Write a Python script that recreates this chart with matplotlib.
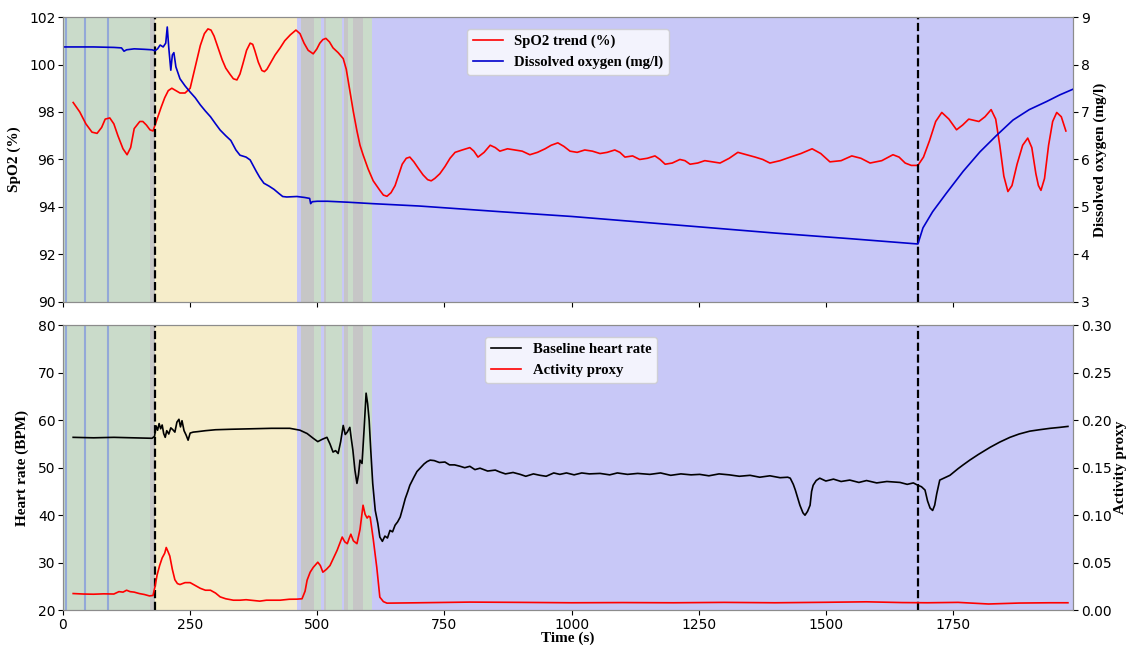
import numpy as np
import matplotlib
matplotlib.use('Agg')
import matplotlib.pyplot as plt

# SpO2 trend (%)
t_spo2 = [20, 33, 45, 57, 67, 76, 83, 92, 100, 108, 118, 126, 133, 140, 151, 157, 164, 171, 177, 185,
          193, 200, 207, 214, 222, 230, 240, 250, 260, 270, 278, 285, 291, 297, 305, 313, 320, 328, 335, 342,
          348, 354, 361, 368, 373, 377, 384, 391, 396, 401, 409, 417, 427, 436, 447, 458, 466, 474, 482, 492,
          499, 505, 511, 517, 524, 531, 541, 551, 557, 564, 571, 578, 584, 590, 600, 610, 623, 630, 637, 645,
          653, 660, 667, 675, 682, 690, 698, 708, 717, 724, 731, 741, 751, 761, 771, 785, 800, 808, 816, 828,
          840, 850, 859, 874, 889, 903, 918, 933, 948, 960, 973, 985, 997, 1011, 1026, 1041, 1056, 1070, 1085, 1095,
          1105, 1120, 1134, 1149, 1164, 1174, 1184, 1198, 1213, 1223, 1233, 1248, 1262, 1277, 1292, 1310, 1327, 1344, 1361, 1376,
          1390, 1410, 1430, 1451, 1473, 1490, 1508, 1530, 1551, 1569, 1587, 1610, 1632, 1644, 1656, 1668, 1681, 1692, 1704, 1716,
          1728, 1742, 1757, 1769, 1781, 1791, 1801, 1813, 1825, 1834, 1842, 1850, 1858, 1866, 1876, 1887, 1897, 1905, 1913, 1918,
          1923, 1930, 1938, 1946, 1954, 1963, 1972]
spo2 = [98.4, 98.0, 97.5, 97.15, 97.1, 97.35, 97.7, 97.75, 97.5, 97.0, 96.45, 96.2, 96.5, 97.3, 97.6, 97.6, 97.45, 97.25, 97.2, 97.7,
        98.2, 98.6, 98.9, 99.0, 98.9, 98.8, 98.8, 99.0, 99.9, 100.8, 101.3, 101.5, 101.45, 101.2, 100.7, 100.2, 99.85, 99.6, 99.4, 99.35,
        99.6, 100.05, 100.6, 100.9, 100.85, 100.6, 100.1, 99.75, 99.7, 99.8, 100.1, 100.4, 100.7, 101.0, 101.25, 101.45, 101.3, 100.9, 100.6, 100.45,
        100.65, 100.9, 101.05, 101.1, 100.95, 100.7, 100.5, 100.25, 99.8, 98.9, 98.0, 97.2, 96.6, 96.2, 95.6, 95.1, 94.7, 94.5, 94.45, 94.6,
        94.9, 95.35, 95.8, 96.05, 96.1, 95.9, 95.65, 95.35, 95.15, 95.1, 95.2, 95.4, 95.7, 96.05, 96.3, 96.4, 96.5, 96.35, 96.1, 96.3,
        96.6, 96.5, 96.35, 96.45, 96.4, 96.35, 96.2, 96.3, 96.45, 96.6, 96.7, 96.55, 96.35, 96.3, 96.4, 96.35, 96.25, 96.3, 96.4, 96.3,
        96.1, 96.15, 96.0, 96.05, 96.15, 96.0, 95.8, 95.85, 96.0, 95.95, 95.8, 95.85, 95.95, 95.9, 95.85, 96.05, 96.3, 96.2, 96.1, 96.0,
        95.85, 95.95, 96.1, 96.25, 96.45, 96.25, 95.9, 95.95, 96.15, 96.05, 95.85, 95.95, 96.2, 96.1, 95.85, 95.75, 95.75, 96.1, 96.8, 97.6,
        97.98, 97.7, 97.25, 97.45, 97.7, 97.65, 97.6, 97.8, 98.1, 97.7, 96.6, 95.3, 94.65, 94.9, 95.8, 96.6, 96.9, 96.5, 95.4, 94.9,
        94.7, 95.2, 96.6, 97.6, 97.98, 97.8, 97.2]

# Dissolved oxygen (mg/l)
t_do = [0, 60, 100, 115, 120, 125, 140, 160, 175, 181, 186, 191, 197, 202, 205, 208, 212, 215, 218, 222,
        230, 240, 250, 260, 270, 280, 290, 300, 309, 320, 330, 340, 348, 360, 368, 380, 387, 395, 405, 415,
        425, 432, 440, 460, 475, 485, 487, 490, 500, 520, 560, 608, 700, 860, 1000, 1252, 1400, 1550, 1681, 1691,
        1710, 1737, 1770, 1803, 1835, 1868, 1900, 1934, 1960, 1986]
dox = [8.37, 8.37, 8.36, 8.35, 8.28, 8.31, 8.33, 8.32, 8.31, 8.29, 8.33, 8.41, 8.37, 8.45, 8.79, 8.35, 7.88, 8.2, 8.25, 7.95,
       7.7, 7.55, 7.42, 7.3, 7.15, 7.02, 6.9, 6.75, 6.62, 6.5, 6.4, 6.2, 6.09, 6.05, 5.99, 5.75, 5.62, 5.5, 5.44, 5.37,
       5.28, 5.22, 5.21, 5.22, 5.2, 5.18, 5.07, 5.11, 5.12, 5.12, 5.1, 5.07, 5.02, 4.9, 4.8, 4.58, 4.45, 4.33, 4.22, 4.56,
       4.9, 5.29, 5.75, 6.16, 6.5, 6.83, 7.05, 7.22, 7.36, 7.48]

# Baseline heart rate (BPM)
t_hr = [20, 60, 100, 140, 175, 180, 183, 186, 189, 192, 195, 198, 201, 204, 208, 212, 216, 220, 224, 228,
        231, 234, 238, 242, 246, 250, 256, 265, 280, 300, 330, 370, 410, 446, 466, 480, 492, 501, 510, 519,
        525, 531, 536, 541, 546, 551, 555, 559, 564, 567, 570, 574, 578, 581, 584, 588, 592, 596, 599, 602,
        605, 609, 614, 619, 623, 628, 633, 638, 643, 648, 653, 658, 663, 668, 673, 678, 682, 690, 696, 702,
        710, 716, 722, 730, 740, 751, 760, 770, 781, 790, 800, 810, 820, 835, 850, 859, 870, 885, 899, 910,
        925, 938, 950, 965, 977, 990, 1005, 1020, 1035, 1056, 1075, 1090, 1110, 1130, 1154, 1175, 1195, 1215, 1235, 1252,
        1270, 1290, 1310, 1330, 1351, 1370, 1390, 1410, 1425, 1430, 1436, 1440, 1445, 1449, 1455, 1459, 1464, 1469, 1472, 1475,
        1481, 1488, 1500, 1515, 1530, 1547, 1565, 1580, 1600, 1620, 1646, 1660, 1672, 1681, 1688, 1695, 1700, 1705, 1710, 1714,
        1718, 1724, 1734, 1744, 1760, 1770, 1783, 1800, 1823, 1842, 1862, 1880, 1901, 1920, 1941, 1960, 1976]
hr = [56.4, 56.3, 56.4, 56.3, 56.2, 56.6, 58.8, 57.9, 59.3, 58.2, 59.0, 57.2, 56.4, 57.8, 57.1, 58.4, 58.0, 57.5, 59.6, 60.2,
      58.6, 59.9, 57.8, 56.9, 55.8, 57.3, 57.5, 57.6, 57.8, 58.0, 58.1, 58.2, 58.3, 58.3, 57.9, 57.2, 56.2, 55.5, 56.0, 56.4,
      55.0, 53.3, 53.6, 53.0, 55.5, 58.9, 57.0, 57.5, 58.5, 56.0, 53.7, 49.5, 46.7, 48.5, 51.6, 50.9, 58.0, 65.7, 63.5, 60.0,
      54.0, 46.7, 41.0, 38.3, 35.4, 34.5, 35.6, 35.2, 36.8, 36.5, 37.9, 38.6, 39.6, 41.5, 43.5, 45.0, 46.3, 48.0, 49.2, 49.9,
      50.8, 51.3, 51.6, 51.5, 51.1, 51.2, 50.6, 50.6, 50.3, 50.0, 50.3, 49.6, 49.9, 49.3, 49.5, 49.1, 48.7, 49.0, 48.6, 48.2,
      48.7, 48.4, 48.2, 48.9, 48.6, 48.9, 48.5, 48.9, 48.7, 48.8, 48.5, 48.9, 48.6, 48.8, 48.6, 48.9, 48.4, 48.7, 48.5, 48.6,
      48.3, 48.7, 48.5, 48.2, 48.4, 48.0, 48.3, 47.9, 48.0, 47.8, 46.5, 45.3, 43.5, 42.1, 40.5, 40.0, 40.8, 42.1, 45.0, 46.3,
      47.3, 47.8, 47.2, 47.6, 47.1, 47.4, 46.9, 47.3, 46.8, 47.1, 46.9, 46.5, 46.8, 46.3, 46.0, 45.3, 43.0, 41.5, 41.0, 42.1,
      44.5, 47.4, 47.9, 48.4, 49.8, 50.6, 51.6, 52.8, 54.3, 55.4, 56.4, 57.1, 57.7, 58.0, 58.3, 58.5, 58.7]

# Activity proxy
t_act = [20, 40, 60, 80, 100, 110, 118, 125, 132, 140, 150, 160, 170, 177, 181, 185, 190, 195, 200, 203,
         207, 210, 215, 220, 225, 230, 240, 250, 260, 270, 280, 290, 300, 309, 320, 335, 348, 360, 387, 400,
         427, 445, 460, 470, 476, 480, 486, 492, 501, 506, 511, 518, 525, 532, 539, 544, 549, 554, 559, 563,
         566, 571, 578, 584, 590, 594, 598, 601, 604, 610, 617, 623, 630, 637, 700, 800, 900, 1000, 1100, 1200,
         1300, 1400, 1500, 1580, 1650, 1700, 1760, 1820, 1880, 1940, 1976]
act = [0.0175, 0.017, 0.0168, 0.0172, 0.017, 0.0195, 0.019, 0.021, 0.0195, 0.019, 0.0175, 0.0165, 0.015, 0.0155, 0.025, 0.037, 0.047, 0.055, 0.06, 0.066,
       0.061, 0.057, 0.043, 0.032, 0.028, 0.027, 0.029, 0.029, 0.026, 0.023, 0.021, 0.021, 0.018, 0.014, 0.012, 0.0105, 0.0105, 0.011, 0.0095, 0.0105,
       0.0105, 0.0115, 0.0116, 0.012, 0.02, 0.0316, 0.04, 0.045, 0.0505, 0.047, 0.04, 0.043, 0.047, 0.055, 0.063, 0.07, 0.077, 0.072, 0.07, 0.076,
       0.08, 0.073, 0.07, 0.085, 0.1105, 0.101, 0.097, 0.099, 0.098, 0.075, 0.045, 0.0137, 0.009, 0.0074, 0.0078, 0.0085, 0.0082, 0.0078, 0.008, 0.0078,
       0.0082, 0.0078, 0.0083, 0.0088, 0.008, 0.0078, 0.0082, 0.0065, 0.0075, 0.0078, 0.0078]

# background phases (start, end, colour key)
phase_start = [0, 172, 181, 461, 468, 493, 508, 513, 517, 549, 553, 561, 571, 589, 607]
phase_end = [172, 181, 461, 468, 493, 508, 513, 517, 549, 553, 561, 571, 589, 607, 1990]
phase_kind = ['green', 'gray', 'yellow', 'blue', 'gray', 'green', 'blue', 'gray', 'green', 'blue', 'gray', 'green', 'gray', 'green', 'blue']
marker_lines = [5, 43, 88]
event_times = [181, 1681]

colors = {'green': '#cadbca', 'gray': '#c6c6c6', 'yellow': '#f6edca', 'blue': '#c8c8f7'}
label_font = {'family': 'Liberation Serif', 'weight': 'bold', 'size': 11}
legend_font = {'family': 'Liberation Serif', 'weight': 'bold', 'size': 10.6}

fig = plt.figure(figsize=(11.29, 6.45), dpi=100)
fig.subplots_adjust(left=0.0558, right=0.9504, top=0.9736, bottom=0.054, hspace=0.082)
ax1 = fig.add_subplot(2, 1, 1)
ax3 = fig.add_subplot(2, 1, 2, sharex=ax1)


def draw_background(ax):
    for s, e, k in zip(phase_start, phase_end, phase_kind):
        ax.axvspan(s, e, color=colors[k], lw=0, zorder=0)
    for x in marker_lines:
        ax.axvline(x, color='#93a8d8', lw=1.5, zorder=0.5)
    for x in event_times:
        ax.axvline(x, color='black', ls='--', lw=1.6, zorder=3)


for ax in (ax1, ax3):
    draw_background(ax)

ax1.set_xlim(0, 1986)

# top panel
l1, = ax1.plot(t_spo2, spo2, color='red', lw=1.2, label='SpO2 trend (%)', zorder=2)
ax1.set_ylim(90, 102)
ax1.set_ylabel('SpO2 (%)', fontdict=label_font, labelpad=6)
ax2 = ax1.twinx()
l2, = ax2.plot(t_do, dox, color='#0000cc', lw=1.2, label='Dissolved oxygen (mg/l)')
ax2.set_ylim(3, 9)
ax2.set_ylabel('Dissolved oxygen (mg/l)', fontdict=label_font, labelpad=3)
plt.setp(ax1.get_xticklabels(), visible=False)
ax2.legend([l1, l2], [l1.get_label(), l2.get_label()], loc='upper left',
           bbox_to_anchor=(0.393, 0.985), prop=legend_font)

# bottom panel
l3, = ax3.plot(t_hr, hr, color='black', lw=1.2, label='Baseline heart rate', zorder=2)
ax3.set_ylim(20, 80)
ax3.set_ylabel('Heart rate (BPM)', fontdict=label_font, labelpad=6)
ax3.set_xlabel('Time (s)', fontdict=label_font, labelpad=0)
ax4 = ax3.twinx()
l4, = ax4.plot(t_act, act, color='red', lw=1.2, label='Activity proxy')
ax4.set_ylim(0, 0.3)
ax4.set_ylabel('Activity proxy', fontdict=label_font, labelpad=2)
ax4.legend([l3, l4], [l3.get_label(), l4.get_label()], loc='upper left',
           bbox_to_anchor=(0.411, 0.985), prop=legend_font)

ax3.set_xticks([0, 250, 500, 750, 1000, 1250, 1500, 1750])
for ax in (ax1, ax2, ax3, ax4):
    ax.tick_params(labelsize=10, pad=2)
    for sp in ax.spines.values():
        sp.set_color('#8c8c8c')

fig.savefig('out.png', dpi=100)
